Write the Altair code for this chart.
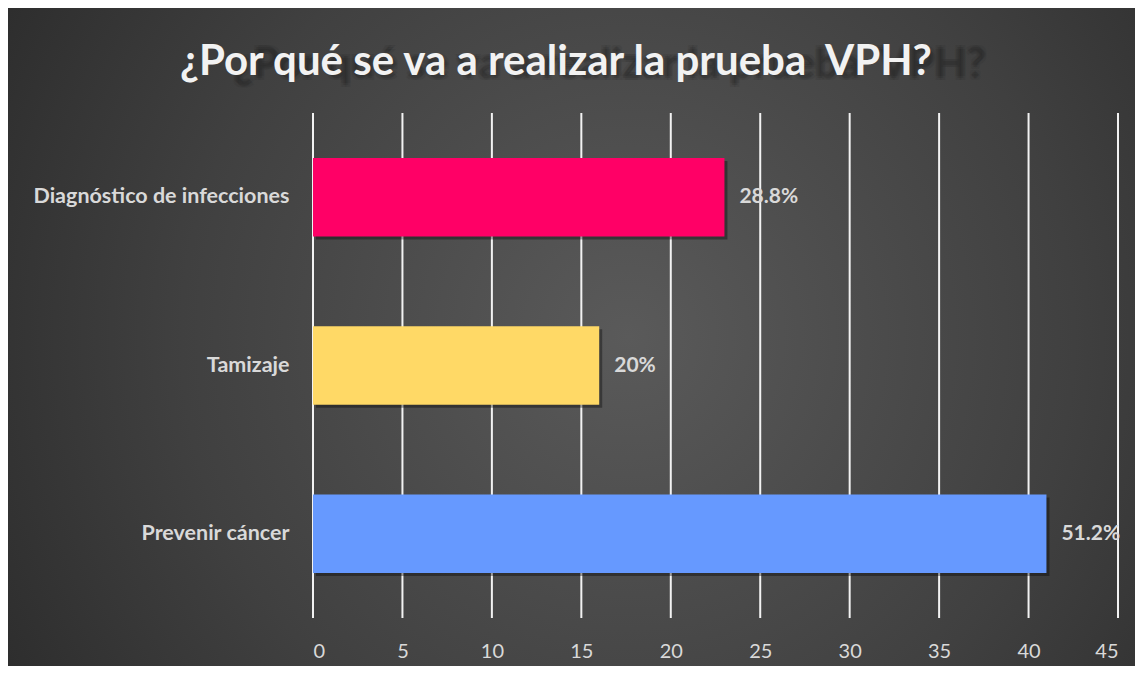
import altair as alt
import pandas as pd

categories = ["Diagnóstico de infecciones", "Tamizaje", "Prevenir cáncer"]
values = [23, 16, 41]
pct_labels = ["28.8%", "20%", "51.2%"]
bar_colors = ["#FF0066", "#FFD966", "#6699FF"]
x_ticks = [0, 5, 10, 15, 20, 25, 30, 35, 40, 45]
title_text = "¿Por qué se va a realizar la prueba\u00a0 VPH?"

W, H = 805, 505
FONT = "Lato"
TXT = "#d9d9d9"

df = pd.DataFrame({"cat": categories, "val": values, "pct": pct_labels, "color": bar_colors})
ticks_df = pd.DataFrame({"tick": x_ticks})
one = pd.DataFrame({"d": [0]})

xscale = alt.Scale(domain=[0, 45], nice=False, zero=True)
yscale = alt.Scale(domain=categories, paddingInner=0.533, paddingOuter=0.267)

x_axis = alt.Axis(title=None, values=x_ticks, grid=False, domain=False, ticks=False,
                  labelFont=FONT, labelFontSize=20, labelColor=TXT, labelPadding=23, zindex=1)

bg = alt.Chart(one).mark_rect(
    fill={
        "gradient": "radial",
        "x1": 0.55, "y1": 0.5, "r1": 0,
        "x2": 0.55, "y2": 0.5, "r2": 0.72,
        "stops": [
            {"offset": 0, "color": "#5a5a5a"},
            {"offset": 0.55, "color": "#404040"},
            {"offset": 1, "color": "#262626"},
        ],
    }
).encode(x=alt.value(-305), x2=alt.value(822), y=alt.value(-105), y2=alt.value(H + 48))

grid = alt.Chart(ticks_df).mark_rule(color="#f2f2f2", strokeWidth=2).encode(
    x=alt.X("tick:Q", scale=xscale, axis=x_axis),
    y=alt.value(0),
    y2=alt.value(H),
)

y_enc = alt.Y(
    "cat:N", scale=yscale, sort=categories,
    axis=alt.Axis(title=None, domain=False, ticks=False, labelFont=FONT, labelFontSize=21.5,
                  labelFontWeight="bold", labelColor=TXT, labelPadding=24, zindex=1, labelLimit=400),
)
x_enc = alt.X("val:Q", scale=xscale, axis=x_axis)

shadow = alt.Chart(df).mark_bar(color="#000000", opacity=0.35, xOffset=3, yOffset=3).encode(
    x=x_enc, y=y_enc
)
bars = alt.Chart(df).mark_bar().encode(
    x=x_enc, y=y_enc, color=alt.Color("color:N", scale=None)
)
labels = alt.Chart(df).mark_text(
    align="left", baseline="middle", dx=15, font=FONT, fontSize=21, fontWeight="bold", color=TXT
).encode(x=x_enc, y=y_enc, text="pct:N")

title_layers = []
for ddx, ddy, op in [(0, 0, 0.12), (2, 2, 0.08), (-2, -2, 0.08), (2, -2, 0.08), (-2, 2, 0.08)]:
    title_layers.append(
        alt.Chart(one).mark_text(
            text=title_text, align="center", baseline="middle", font=FONT, fontSize=42,
            fontWeight="bold", color="#111111", opacity=op, dx=ddx, dy=ddy,
        ).encode(x=alt.value(243 + 54), y=alt.value(-48))
    )
title = alt.Chart(one).mark_text(
    text=title_text, align="center", baseline="middle", font=FONT, fontSize=42,
    fontWeight="bold", color="#f2f2f2",
).encode(x=alt.value(243), y=alt.value(-51))

chart = alt.layer(bg, grid, shadow, bars, labels, *title_layers, title).properties(
    width=W, height=H, background="#262626", padding=0
).configure_view(stroke=None)

chart.save("out.html", embed_options={"renderer": "svg", "actions": False})
